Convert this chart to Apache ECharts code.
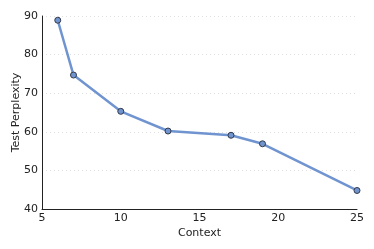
<!DOCTYPE html>
<html><head><meta charset="utf-8">
<script src="https://cdn.jsdelivr.net/npm/echarts@6/dist/echarts.min.js"></script>
<style>html,body{margin:0;padding:0;background:#fff}#c{width:374px;height:249px}</style>
</head><body><div id="c"></div>
<script>
const contexts = [6, 7, 10, 13, 17, 19, 25];
const perplexity = [88.9, 74.7, 65.3, 60.2, 59.1, 56.9, 44.8];
const xTicks = [5, 10, 15, 20, 25];
const yTicks = [40, 50, 60, 70, 80, 90];
const xName = 'Context';
const yName = 'Test Perplexity';

const chart = echarts.init(document.getElementById('c'), null, {renderer: 'canvas'});
const font = 'DejaVu Sans';
chart.setOption({
  animation: false,
  grid: {left: 42, right: 17, top: 16, bottom: 40, containLabel: false, outerBoundsMode: 'none'},
  xAxis: {
    type: 'value', min: xTicks[0], max: xTicks[xTicks.length-1], interval: 5,
    name: xName, nameLocation: 'middle', nameGap: 19, nameMoveOverlap: false,
    nameTextStyle: {fontFamily: font, fontSize: 11, color: '#222'},
    axisLine: {lineStyle: {color: '#222', width: 1}},
    axisTick: {show: false},
    axisLabel: {fontFamily: font, fontSize: 11, color: '#222', margin: 4},
    splitLine: {show: false}
  },
  yAxis: {
    type: 'value', min: yTicks[0], max: yTicks[yTicks.length-1], interval: 10,
    name: yName, nameLocation: 'middle', nameGap: 20, nameMoveOverlap: false,
    nameTextStyle: {fontFamily: font, fontSize: 11, color: '#222'},
    axisLine: {show: true, lineStyle: {color: '#222', width: 1}},
    axisTick: {show: false},
    axisLabel: {fontFamily: font, fontSize: 11, color: '#222', margin: 4},
    splitLine: {show: true, lineStyle: {color: '#e0e0e0', type: [1, 3], width: 1}}
  },
  series: [{
    type: 'line',
    data: contexts.map((c, i) => [c, perplexity[i]]),
    lineStyle: {color: '#7094d0', width: 2.5},
    symbol: 'circle', symbolSize: 6,
    itemStyle: {color: '#7094d0', borderColor: '#333a4a', borderWidth: 1},
    clip: false
  }]
});
</script></body></html>
